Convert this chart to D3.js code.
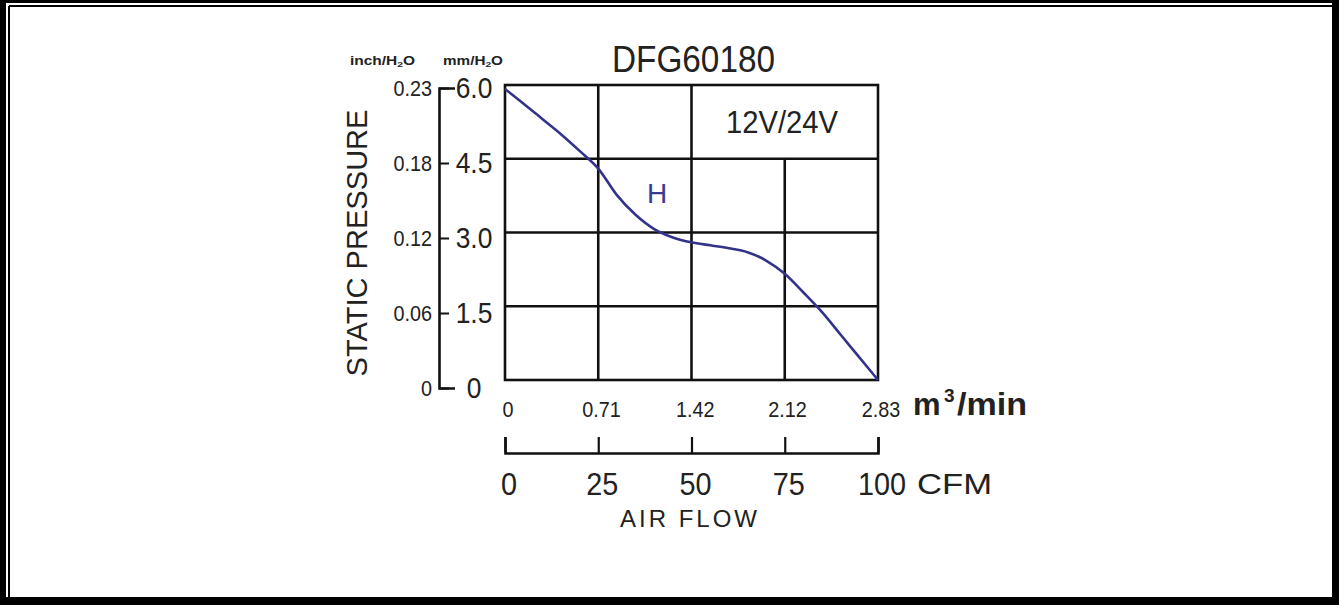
<!DOCTYPE html>
<html>
<head>
<meta charset="utf-8">
<script src="https://cdn.jsdelivr.net/npm/d3@7"></script>
<style>
  body { margin: 0; background: #fff; }
  svg { display: block; }
  text { font-family: "Liberation Sans", Arial, sans-serif; fill: #222; }
</style>
</head>
<body>
<div id="chart"></div>
<script>
// Chart data
const flowCFM = [0, 5, 10, 15, 20, 25, 30, 35, 40, 45, 50, 55, 60, 65, 70, 75, 80, 85, 90, 95, 100];
const pressureMM = [5.92, 5.62, 5.31, 5.0, 4.66, 4.3, 3.76, 3.36, 3.07, 2.9, 2.8, 2.74, 2.68, 2.6, 2.43, 2.16, 1.78, 1.38, 0.92, 0.46, 0];

const cfmTicks = [0, 25, 50, 75, 100];
const m3Ticks = [0, 0.71, 1.42, 2.12, 2.83];
const m3Labels = ["0", "0.71", "1.42", "2.12", "2.83"];
const mmTicks = [0, 1.5, 3.0, 4.5, 6.0];
const mmLabels = ["0", "1.5", "3.0", "4.5", "6.0"];
const inchLabels = ["0", "0.06", "0.12", "0.18", "0.23"];

const W = 1339, H = 605;

const svg = d3.select("#chart").append("svg")
  .attr("width", W)
  .attr("height", H);

// frame
svg.append("rect").attr("width", W).attr("height", H).attr("fill", "#000");
svg.append("rect").attr("x", 6).attr("y", 3).attr("width", 1326).attr("height", 594).attr("fill", "#fff");
svg.append("line").attr("x1", 9).attr("x2", 9).attr("y1", 6).attr("y2", 597).attr("stroke", "#000").attr("stroke-width", 2);
svg.append("line").attr("x1", 9).attr("x2", 1332).attr("y1", 6).attr("y2", 6).attr("stroke", "#000").attr("stroke-width", 2);

// scales
const x = d3.scaleLinear().domain([0, 100]).range([505, 878]);
const xm3 = d3.scaleLinear().domain([0, 2.83]).range([505, 878]);
const y = d3.scaleLinear().domain([0, 6]).range([380, 85]);
const yAxis = d3.scaleLinear().domain([0, 6]).range([388, 88]);

// squeeze text horizontally (the original uses a narrow face)
function condense(sel, f) {
  sel.each(function () {
    const w = this.getComputedTextLength();
    d3.select(this).attr("textLength", w * f).attr("lengthAdjust", "spacingAndGlyphs");
  });
}

// grid
const grid = svg.append("g").attr("stroke", "#111").attr("stroke-width", 2.6);
grid.selectAll(".hl").data([1.5, 3.0, 4.5]).join("line")
  .attr("x1", x(0)).attr("x2", x(100))
  .attr("y1", d => y(d)).attr("y2", d => y(d));
grid.selectAll(".vl").data([25, 50, 75]).join("line")
  .attr("x1", d => x(d)).attr("x2", d => x(d))
  .attr("y1", d => d === 75 ? y(4.5) : y(6)).attr("y2", y(0));
grid.append("rect")
  .attr("x", x(0)).attr("y", y(6))
  .attr("width", x(100) - x(0)).attr("height", y(0) - y(6))
  .attr("fill", "none");

// curve
const line = d3.line()
  .x((d, i) => x(flowCFM[i]))
  .y(d => y(d))
  .curve(d3.curveMonotoneX);
svg.append("path")
  .datum(pressureMM)
  .attr("d", line)
  .attr("fill", "none")
  .attr("stroke", "#33338c")
  .attr("stroke-width", 2.6);

// helper for text
function label(txt, px, py, size, opts = {}) {
  const t = svg.append("text")
    .attr("x", px).attr("y", py)
    .attr("font-size", size)
    .attr("text-anchor", opts.anchor || "start")
    .text(txt);
  if (opts.len) t.attr("textLength", opts.len).attr("lengthAdjust", opts.adjust || "spacingAndGlyphs");
  if (opts.weight) t.attr("font-weight", opts.weight);
  if (opts.fill) t.style("fill", opts.fill);
  return t;
}

label("DFG60180", 612, 72, 37, { len: 163 });
label("12V/24V", 726, 133, 32, { len: 112 });
label("H", 647, 203, 28, { fill: "#3a3a90" });

// left axis (mm/H2O)
const gL = svg.append("g").attr("transform", "translate(439,0)")
  .call(d3.axisRight(yAxis).tickValues(mmTicks).tickSizeInner(10).tickSizeOuter(16).tickFormat((d, i) => mmLabels[i]));
gL.select(".domain").attr("stroke", "#111").attr("stroke-width", 2.6);
gL.selectAll(".tick line").attr("stroke", "#111").attr("stroke-width", 2);
gL.selectAll(".tick text")
  .attr("x", 35).attr("text-anchor", "middle")
  .attr("font-size", 30).attr("font-family", "Liberation Sans, Arial, sans-serif")
  .attr("fill", "#222")
  .call(condense, 0.88);

// inch labels
svg.selectAll(".inch").data(mmTicks).join("text")
  .attr("x", 432).attr("y", d => yAxis(d)).attr("dy", "0.35em")
  .attr("text-anchor", "end").attr("font-size", 22)
  .text((d, i) => inchLabels[i])
  .call(condense, 0.9);

// unit labels
const u1 = svg.append("text").attr("x", 350).attr("y", 65).attr("font-size", 12).attr("font-weight", "bold")
  .attr("textLength", 65).attr("lengthAdjust", "spacingAndGlyphs");
u1.append("tspan").text("inch/H");
u1.append("tspan").attr("font-size", 8).attr("dy", 2).text("2");
u1.append("tspan").attr("dy", -2).text("O");
const u2 = svg.append("text").attr("x", 443).attr("y", 65).attr("font-size", 12).attr("font-weight", "bold")
  .attr("textLength", 60).attr("lengthAdjust", "spacingAndGlyphs");
u2.append("tspan").text("mm/H");
u2.append("tspan").attr("font-size", 8).attr("dy", 2).text("2");
u2.append("tspan").attr("dy", -2).text("O");

svg.append("text")
  .attr("transform", "translate(367,243) rotate(-90)")
  .attr("text-anchor", "middle").attr("font-size", 30)
  .attr("textLength", 267).attr("lengthAdjust", "spacingAndGlyphs")
  .text("STATIC PRESSURE");

// m3/min labels
svg.selectAll(".m3").data(m3Ticks).join("text")
  .attr("x", d => xm3(d) + 3).attr("y", 417)
  .attr("text-anchor", "middle").attr("font-size", 22)
  .text((d, i) => m3Labels[i])
  .call(condense, 0.9);
label("m", 913, 415, 31, { weight: "bold" });
label("3", 944, 402, 19, { weight: "bold" });
label("/min", 957, 415, 31, { weight: "bold", len: 70 });

// CFM axis
const gB = svg.append("g").attr("transform", "translate(0,453)")
  .call(d3.axisTop(x).tickValues(cfmTicks).tickSizeInner(16).tickSizeOuter(16).tickFormat(""));
gB.select(".domain").attr("stroke", "#111").attr("stroke-width", 2.6);
gB.selectAll(".tick line").attr("stroke", "#111").attr("stroke-width", 2.2);

svg.selectAll(".cfm").data(cfmTicks).join("text")
  .attr("x", d => x(d) + 4).attr("y", 495)
  .attr("text-anchor", "middle").attr("font-size", 32)
  .text(d => d)
  .call(condense, 0.9);
label("CFM", 917, 494, 30, { len: 75 });
label("AIR FLOW", 620, 527, 24, { len: 137, adjust: "spacing" });
</script>
</body>
</html>
